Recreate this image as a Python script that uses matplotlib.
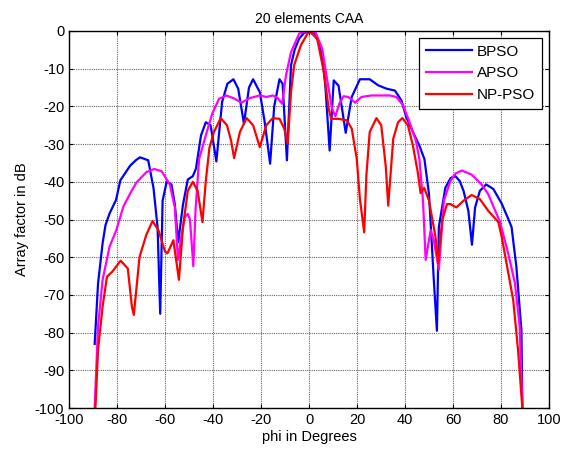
import matplotlib
matplotlib.use("Agg")
import matplotlib.pyplot as plt

plt.rcParams['font.family'] = ['Liberation Sans', 'DejaVu Sans']
plt.rcParams['axes.unicode_minus'] = False

# BPSO
bpso_phi = [-89.3, -87.9, -86, -84.8, -83.1, -80.4, -78.6, -74.5, -72, -70.4, -67, -64.8,
            -63.1, -62, -61, -59.3, -57.3, -55.9, -54.5, -52.5, -50.5, -48.4, -47.1, -45,
            -43, -41, -38.6, -36.2, -34, -31.5, -29.5, -27.1, -25, -23.3, -20.5, -18.5,
            -16.2, -14.5, -12.3, -11, -9.2, -7.5, -6, -4.1, -2, 0, 2, 4.1, 5.5, 6.8, 8.6,
            10.3, 12.3, 15.3, 17.8, 21.2, 25.3, 28.8, 32.3, 35.8, 38.5, 40.5, 43.3, 46,
            48.1, 50, 52, 53.3, 54.1, 56.8, 59, 61, 62.8, 64.4, 66.4, 67.9, 69.2, 71.2,
            73.8, 76.8, 80.3, 83, 84.4, 86.4, 88.5, 88.9]
bpso_db = [-83, -67, -56.3, -51.5, -48.4, -44.8, -39.6, -35.7, -34.2, -33.5, -34.3, -41.6,
           -52, -75, -45, -40, -40.7, -46, -56, -46, -39.4, -38.5, -36.5, -27.7,
           -24.2, -25, -34.6, -18.8, -14, -12.8, -15.3, -24.6, -15, -12.8, -16.2, -24,
           -35.2, -20, -12.8, -14, -34.3, -9.1, -5, -2, -0.5, 0, -0.7, -2.9, -7, -14.4, -31.7,
           -13.1, -14.5, -27, -17.5, -12.8, -12.8, -14.4, -15.3, -15.8, -18.4, -22.8, -26.8, -30.4,
           -34, -43.3, -66, -79.5, -52, -41.6, -39, -38.5, -39.8, -42.4, -47.7, -56.7, -46.8, -42.4,
           -40.7, -41.9, -45.8, -49.8, -52, -62.5, -79.3, -100]

# APSO
apso_phi = [-89.3, -87.9, -86, -83.1, -80.4, -77.3, -74, -71.8, -67.7, -64.5, -61.4, -58,
            -55.9, -54.6, -53.2, -51.8, -50.5, -49.6, -48.2, -47.3, -45.8, -43, -40.3, -37.5,
            -34.5, -31.5, -28.1, -24.7, -20.5, -17.8, -15.1, -13, -11.2, -9.6, -7.5, -4.1,
            -0.7, 2.7, 5.5, 7.5, 9.6, 11, 12.6, 14.4, 16.4, 19.2, 21.9, 26, 30, 33.7, 36.4,
            39.2, 41.9, 44.5, 46, 47.5, 48.6, 50.7, 52, 54.1, 56.2, 58.9, 61, 63.7, 67.8,
            71.9, 74.7, 79.6, 83, 85.8, 87.8, 88.9]
apso_db = [-100, -78.4, -66, -57.2, -53, -46.5, -42.5, -40.1, -37.4, -36.6, -37.2, -40.7,
           -46.8, -60.7, -54.6, -49.4, -48.5, -50, -62.4, -47.7, -34, -27.7, -21.9, -18,
           -17.1, -17.8, -19, -17.8, -17.1, -17.5, -17.1, -17.8, -19.3, -11.8, -5.6, -0.7,
           0, -0.3, -4.7, -12.7, -20.6, -22.6, -19.3, -17.3, -17.5, -19, -17.5, -17.1, -17.1, -17.1, -17.5,
           -19.7, -24.2, -29, -34, -45, -60.7, -52.8, -55.5, -63.3, -45, -39.8, -37.8, -37, -38.1,
           -40.7, -43.3, -50.7, -59, -66.9, -78.4, -100]

# NP-PSO
np_phi = [-89, -87.9, -86, -84.2, -81.9, -78.5, -75.5, -73.8, -73, -70.6, -67.8, -65.2,
          -62.7, -60, -59, -56.5, -54.2, -52.5, -50.5, -48.4, -46.4, -44.4, -43, -41.5,
          -39.6, -36.8, -34.2, -32.5, -31.2, -28.8, -26, -23.3, -20.5, -17.8, -15.1, -12.3,
          -10.3, -8.9, -7.5, -6.2, -3.4, 0, 3.4, 6.2, 8.2, 9.2, 12.3, 15.8, 17.8, 19.9, 21.2,
          23, 23.9, 25.3, 28.1, 30.1, 32, 33, 35.1, 37.1, 38.9, 41.2, 43.3, 45.3, 46.5, 48,
          50, 52.7, 53.8, 55.5, 57.5, 58.9, 61.4, 64.4, 67.8, 71.2, 74.7, 78.9, 80.3, 82.3,
          85.1, 87.1, 88.9]
np_db = [-100, -84.6, -73.1, -65.2, -63.8, -60.9, -63, -73.1, -75.3, -59.9, -54.1, -50.4,
         -52.9, -58.5, -59, -55.5, -66, -52, -42.4, -40, -42.4, -50.7, -39.8, -31,
         -26.8, -23.1, -25, -29, -33.7, -26.8, -23.1, -25, -30.8, -25, -23.1, -23.3,
         -25.9, -29.9, -16.2, -9.1, -3.8, 0, -2, -10.9, -20.6, -23.3, -23.3, -23.7, -25.9, -33.9, -44.5,
         -53.4, -38.3, -26.8, -23.1, -25, -36, -46.3, -28.6, -24.2, -23.1, -25, -30.4, -37.4, -43, -41.6,
         -45, -54.6, -61.6, -50.2, -45.9, -45.9, -46.8, -45, -43.5, -44.6, -47.7, -50.7, -54.6, -61.6,
         -71.4, -84.6, -100]

fig = plt.figure(figsize=(5.71, 4.5), dpi=100)
ax = fig.add_axes([69 / 571, 1 - 408 / 450, 480 / 571, 377 / 450])

ax.plot(bpso_phi, bpso_db, color='#0000ff', lw=1.6, label='BPSO')
ax.plot(apso_phi, apso_db, color='#ff00ff', lw=1.6, label='APSO')
ax.plot(np_phi, np_db, color='#ff0000', lw=1.6, label='NP-PSO')

ax.set_xlim(-100, 100)
ax.set_ylim(-100, 0)
ax.set_xticks(range(-100, 101, 20))
ax.set_yticks(range(-100, 1, 10))
ax.grid(True, color='0.4', linestyle=(0, (1, 1)), linewidth=0.8)
ax.tick_params(direction='in', top=True, right=True, length=3, labelsize=10.5)
for s in ax.spines.values():
    s.set_linewidth(1.0)

ax.set_title('20 elements CAA', fontsize=10, pad=6)
ax.set_xlabel('phi in Degrees', fontsize=10.5, labelpad=2)
ax.set_ylabel('Array factor in dB', fontsize=10.5)

leg = ax.legend(loc='upper right', fontsize=11, fancybox=False, framealpha=1,
                edgecolor='black', borderaxespad=0.45, handlelength=3.0,
                labelspacing=0.5, borderpad=0.45, handletextpad=0.35)
leg.get_frame().set_linewidth(0.9)

fig.savefig('out.png', dpi=100)
